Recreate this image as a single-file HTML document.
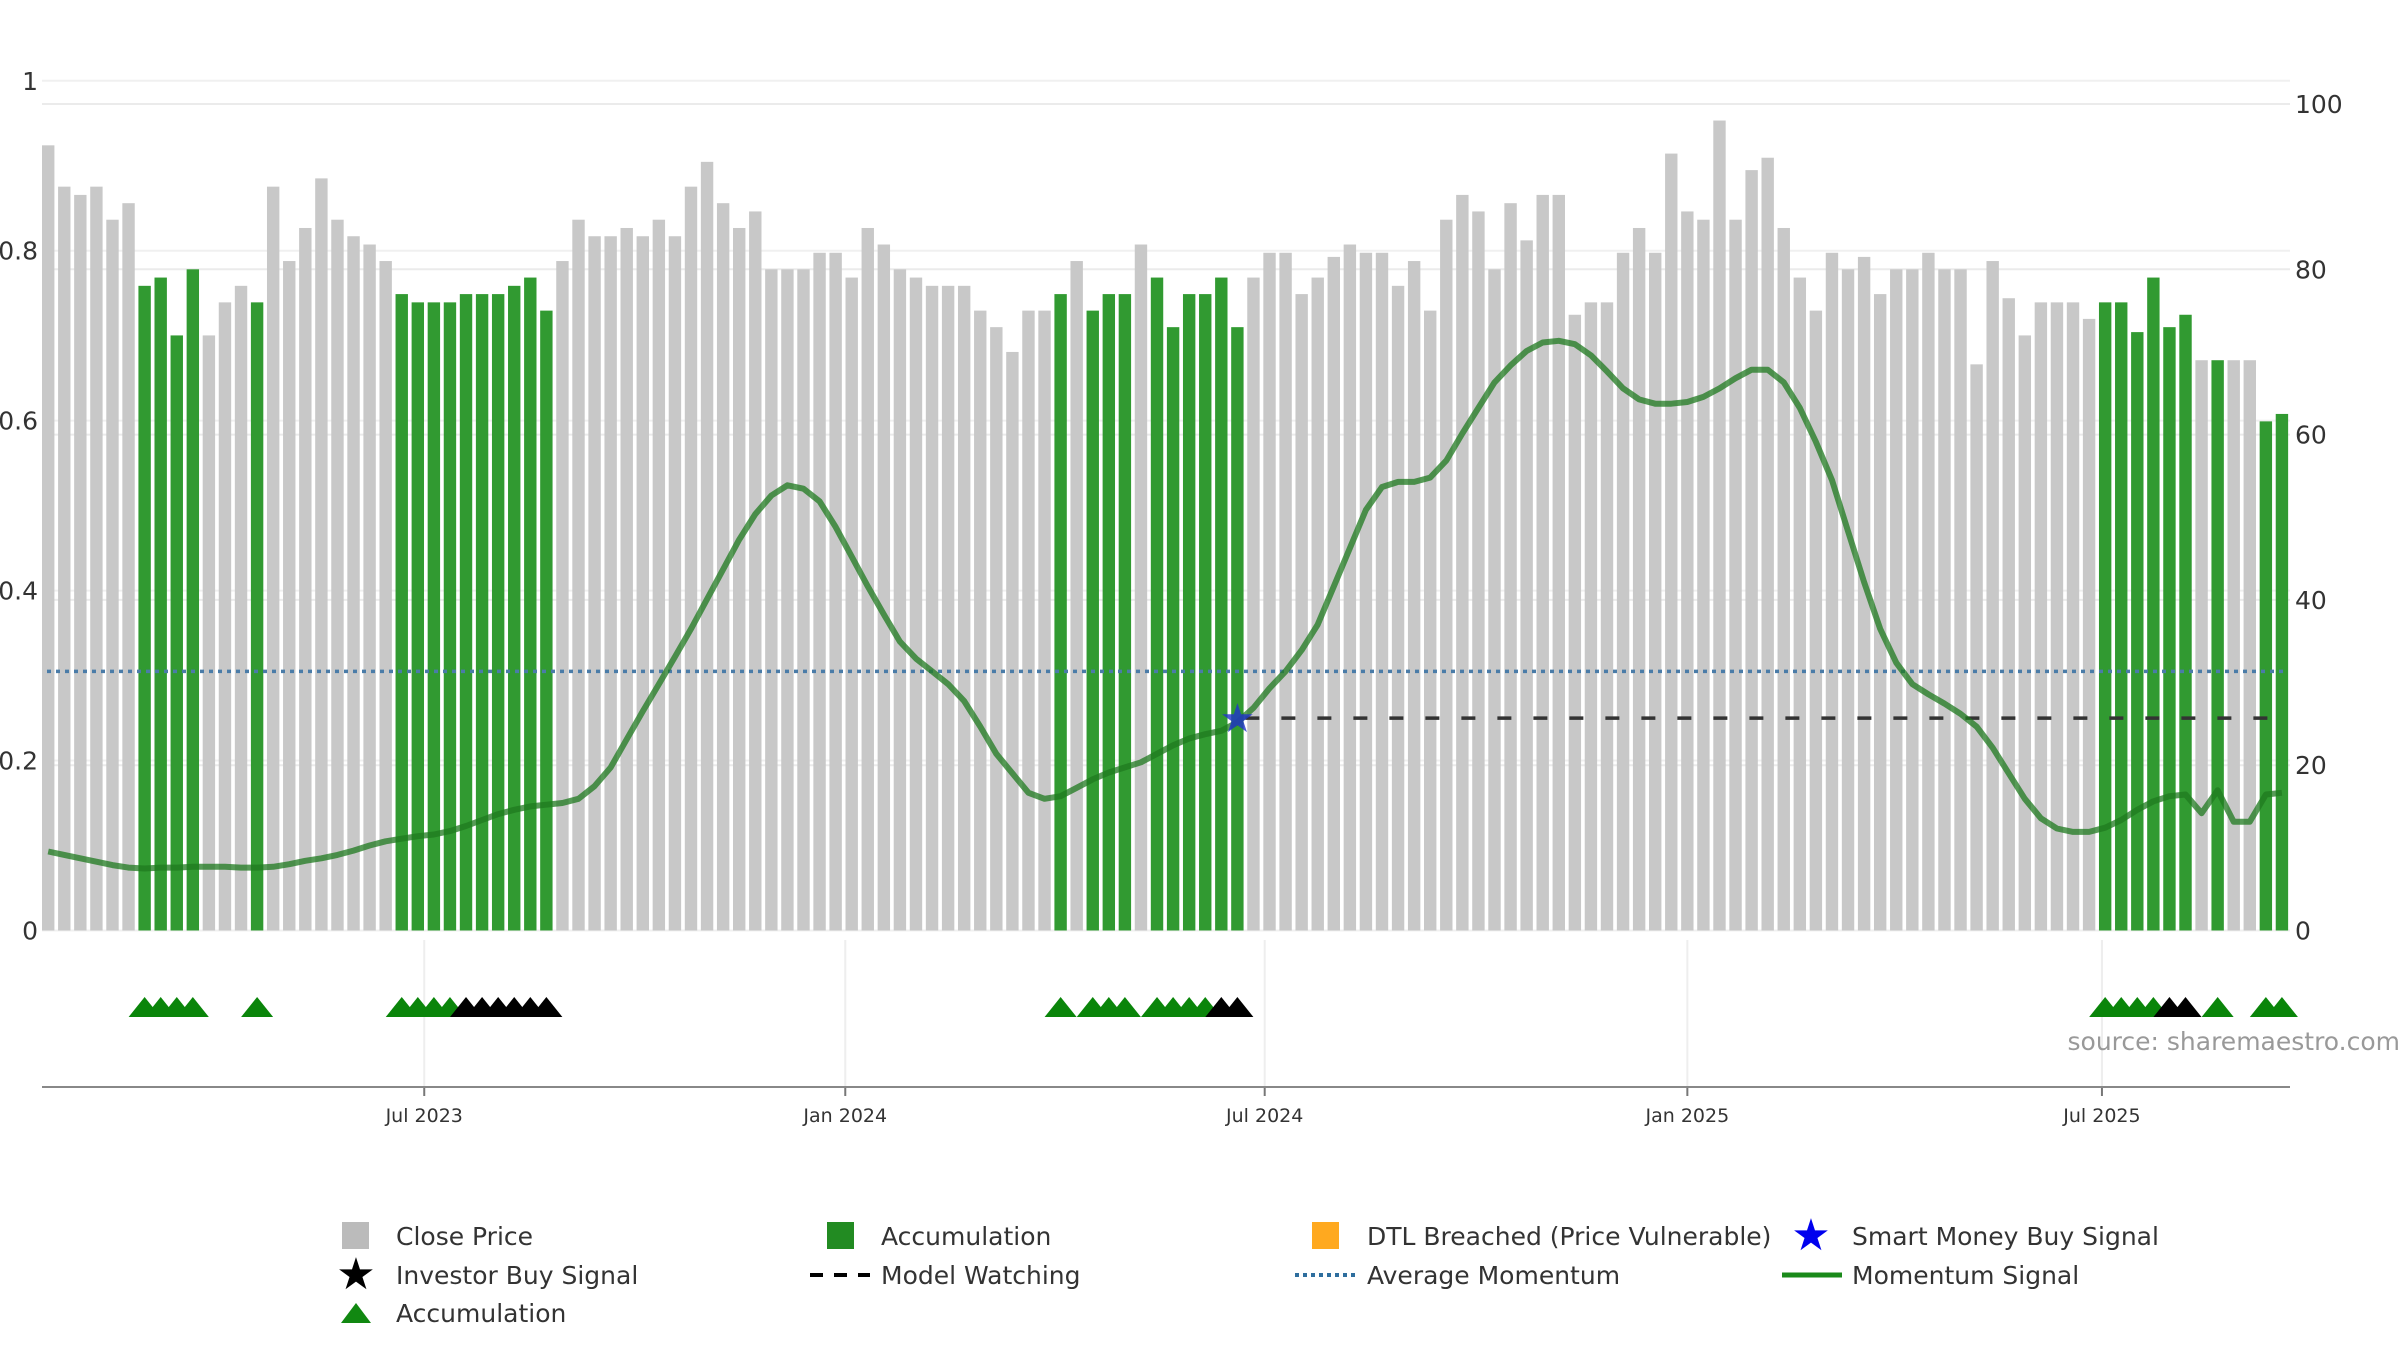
<!DOCTYPE html>
<html><head><meta charset="utf-8">
<style>
html,body{margin:0;padding:0;background:#fff;}
body{width:2400px;height:1350px;overflow:hidden;font-family:"Liberation Sans","DejaVu Sans",sans-serif;}
svg text{font-family:"DejaVu Sans","Liberation Sans",sans-serif;}
</style></head>
<body>
<svg id="chart" width="2400" height="1350" viewBox="0 0 2400 1350" xmlns="http://www.w3.org/2000/svg">
<g id="grid"></g>
<g id="bars"></g>
<g id="lines"></g>
<g id="markers"></g>
<g id="axes"></g>
<text x="2400" y="1050" text-anchor="end" font-size="25" fill="#999">source: sharemaestro.com</text>
<g id="legend" font-size="25" fill="#333">
  <g><rect x="342" y="1222" width="27" height="27" fill="#bbb"/><text x="396" y="1245">Close Price</text></g>
  <g><rect x="827" y="1222" width="27" height="27" fill="#228b22"/><text x="881" y="1245">Accumulation</text></g>
  <g><rect x="1312" y="1222" width="27" height="27" fill="#ffa91f"/><text x="1367" y="1245">DTL Breached (Price Vulnerable)</text></g>
  <g><text x="1811" y="1250" font-size="44" text-anchor="middle" fill="#0000ee">★</text><text x="1852" y="1245">Smart Money Buy Signal</text></g>
  <g><text x="356" y="1289" font-size="44" text-anchor="middle" fill="#000">★</text><text x="396" y="1284">Investor Buy Signal</text></g>
  <g><line x1="810" y1="1275" x2="870" y2="1275" stroke="#000" stroke-width="4" stroke-dasharray="13,11"/><text x="881" y="1284">Model Watching</text></g>
  <g><line x1="1295" y1="1275" x2="1355" y2="1275" stroke="#2e6e9e" stroke-width="4" stroke-dasharray="4,4"/><text x="1367" y="1284">Average Momentum</text></g>
  <g><line x1="1782" y1="1275" x2="1842" y2="1275" stroke="#1a8a1a" stroke-width="5"/><text x="1852" y="1284">Momentum Signal</text></g>
  <g><polygon points="341,1323 371,1323 356,1303" fill="#118811"/><text x="396" y="1322">Accumulation</text></g>
</g>
</svg>
<script>
const closePrice=[95,90,89,90,86,88,78,79,72,80,72,76,78,76,90,81,85,91,86,84,83,81,77,76,76,76,77,77,77,78,79,75,81,86,84,84,85,84,86,84,90,93,88,85,87,80,80,80,82,82,79,85,83,80,79,78,78,78,75,73,70,75,75,77,81,75,77,77,83,79,73,77,77,79,73,79,82,82,77,79,81.5,83,82,82,78,81,75,86,89,87,80,88,83.5,89,89,74.5,76,76,82,85,82,94,87,86,98,86,92,93.5,85,79,75,82,80,81.5,77,80,80,82,80,80,68.5,81,76.5,72,76,76,76,74,76,76,72.4,79,73,74.5,69,69,69,69,61.6,62.5];
const accumBars=[7,8,9,10,14,23,24,25,26,27,28,29,30,31,32,64,66,67,68,70,71,72,73,74,75,129,130,131,132,133,134,136,139,140];
const investorBuy=[27,28,29,30,31,32,74,75,133,134];
const momentum=[.093,.089,.085,.081,.077,.074,.073,.074,.074,.075,.075,.075,.074,.074,.075,.078,.082,.085,.089,.094,.100,.105,.108,.111,.113,.117,.123,.130,.137,.142,.146,.148,.150,.155,.170,.192,.225,.258,.290,.322,.355,.390,.425,.460,.490,.512,.524,.520,.505,.475,.440,.405,.372,.340,.320,.305,.290,.270,.240,.208,.185,.162,.155,.158,.168,.178,.186,.192,.198,.208,.218,.226,.231,.235,.245,.262,.285,.305,.330,.360,.405,.450,.495,.522,.528,.528,.533,.553,.585,.615,.645,.665,.682,.692,.694,.690,.677,.658,.638,.625,.620,.620,.622,.628,.638,.650,.660,.660,.645,.615,.575,.530,.470,.410,.355,.315,.290,.278,.267,.255,.240,.215,.185,.155,.132,.120,.116,.116,.121,.130,.142,.152,.158,.160,.138,.165,.128,.128,.160,.162];
const smartMoneyBar=75;
const averageMomentum=0.305;
const modelWatching=0.25;
const leftTicks=[0,0.2,0.4,0.6,0.8,1];
const leftTickLabels=["0","0.2","0.4","0.6","0.8","1"];
const rightTicks=[0,20,40,60,80,100];
const dateTicks=[24.4,50.6,76.7,103.0,128.8];
const dateTickLabels=["Jul 2023","Jan 2024","Jul 2024","Jan 2025","Jul 2025"];

const NS="http://www.w3.org/2000/svg";
const X0=48.2, STEP=16.07, PL=42, PR=2290;
const xPos=i=>X0+(i-1)*STEP;
const yR=v=>930.5-v*8.265;
const yL=v=>930.5-v*849.7;
function mk(tag,attrs,parent){const e=document.createElementNS(NS,tag);for(const k in attrs)e.setAttribute(k,attrs[k]);parent.appendChild(e);return e;}
const grid=document.getElementById('grid'),bars=document.getElementById('bars'),lines=document.getElementById('lines'),markers=document.getElementById('markers'),axes=document.getElementById('axes');

rightTicks.forEach(v=>{const l=mk('line',{x1:PL,x2:PR,y1:yR(v),y2:yR(v),stroke:'#ebebeb','stroke-width':2},grid);


const t=mk('text',{x:2295,y:yR(v)+9,'font-size':25,fill:'#333'},axes);t.textContent=v;

});
leftTicks.forEach((v,k)=>{const l=mk('line',{x1:PL,x2:PR,y1:yL(v),y2:yL(v),stroke:'#f0f0f0','stroke-width':2},grid);


const t=mk('text',{x:38,y:yL(v)+9,'font-size':25,fill:'#333','text-anchor':'end'},axes);t.textContent=leftTickLabels[k];

});
dateTicks.forEach((d,k)=>{const x=xPos(d);
const g=mk('line',{x1:x,x2:x,y1:940,y2:1087,stroke:'#eeeeee','stroke-width':2},grid);


const tk=mk('line',{x1:x,x2:x,y1:1087,y2:1096,stroke:'#777','stroke-width':2},axes);


const t=mk('text',{x:x,y:1122,'font-size':19,fill:'#333','text-anchor':'middle'},axes);t.textContent=dateTickLabels[k];

});
const ax=mk('line',{x1:PL,x2:PR,y1:1087,y2:1087,stroke:'#888','stroke-width':2},axes);



closePrice.forEach((v,i)=>{const n=i+1;const acc=accumBars.includes(n);
const r=mk('rect',{x:xPos(n)-6.2,y:yR(v),width:12.4,height:yR(0)-yR(v),fill:acc?'#319a31':'#c8c8c8'},bars);

});

const avg=mk('line',{x1:PL+5,x2:PR-5,y1:yL(averageMomentum),y2:yL(averageMomentum),stroke:'#4a7ca8','stroke-width':3.5,'stroke-dasharray':'4,5'},lines);


const mw=mk('line',{x1:xPos(smartMoneyBar)+8,x2:PR-5,y1:yL(modelWatching),y2:yL(modelWatching),stroke:'#333','stroke-width':3.5,'stroke-dasharray':'14,22'},lines);


const pts=momentum.map((v,i)=>xPos(i+1).toFixed(1)+','+yL(v).toFixed(1)).join(' ');
const ml=mk('polyline',{points:pts,fill:'none',stroke:'#1f7a1f','stroke-opacity':0.75,'stroke-width':6,'stroke-linejoin':'round'},lines);



const st=mk('text',{x:xPos(smartMoneyBar),y:yL(modelWatching)+14,'font-size':40,'text-anchor':'middle',fill:'#2233cc','fill-opacity':0.8},markers);st.textContent='★';


accumBars.forEach(n=>{const x=xPos(n),y=1007;const inv=investorBuy.includes(n);
const p=mk('polygon',{points:(x-16)+','+(y+10)+' '+(x+16)+','+(y+10)+' '+x+','+(y-10),fill:inv?'#000':'#0a850a'},markers);

});
</script>
</body></html>
